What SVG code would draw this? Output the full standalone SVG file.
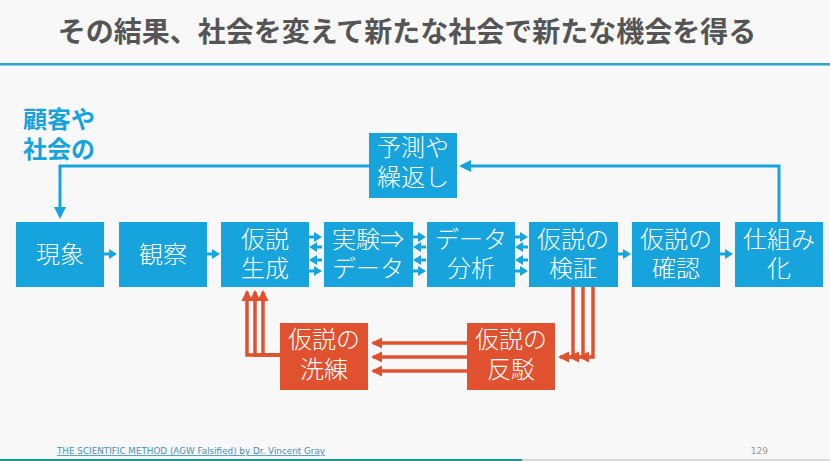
<svg xmlns="http://www.w3.org/2000/svg" width="830" height="461" viewBox="0 0 830 461">
<style>
.bg{fill:#f8f8f8}
.bx{fill:#17a3db}
.rx{fill:#e0522f}
.t{font-family:"Liberation Sans","Noto Sans CJK JP",sans-serif;font-size:24px;fill:#ffffff;text-anchor:middle;font-weight:300}
.title{font-family:"Noto Sans CJK JP",sans-serif;font-size:28px;font-weight:bold;fill:#555555;text-anchor:middle}
.lbl{font-family:"Liberation Sans","Noto Sans CJK JP",sans-serif;font-size:24px;font-weight:bold;fill:#17a3db}
.bl{fill:none;stroke:#17a3db;stroke-width:3}
.rl{fill:none;stroke:#e0522f;stroke-width:3.5}
.sa{fill:#17a3db}
.foot{font-family:"DejaVu Sans",sans-serif;font-size:8.5px;fill:#4a8fb5;text-decoration:underline}
.pg{font-family:"DejaVu Sans",sans-serif;font-size:9px;fill:#999999}
</style>
<defs>
<path id="ar" d="M0,-1.5 H5 V-5 L13,0 L5,5 V1.5 H0 Z"/>
<path id="al" d="M13,-1.5 H8 V-5 L0,0 L8,5 V1.5 H13 Z"/>
<marker id="mb" markerWidth="4" markerHeight="4" refX="3" refY="2" orient="auto" markerUnits="strokeWidth"><path d="M0,0 L4,2 L0,4 Z" fill="#17a3db"/></marker>
<marker id="mr" markerWidth="3.2" markerHeight="3.2" refX="2.6" refY="1.6" orient="auto" markerUnits="strokeWidth"><path d="M0,0 L3.2,1.6 L0,3.2 Z" fill="#e0522f"/></marker>
</defs>
<rect class="bg" x="0" y="0" width="830" height="461"/>
<text class="title" x="407" y="42">その結果、社会を変えて新たな社会で新たな機会を得る</text>
<rect x="0" y="63" width="830" height="2.5" fill="#2aa6d6"/>

<g id="label">
<text class="lbl" x="23" y="128">顧客や</text>
<text class="lbl" x="23" y="158">社会の</text>
</g>

<g id="connectors">
<path class="bl" d="M779,222 V166 H462" marker-end="url(#mb)"/>
<path class="bl" d="M369,166 H60 V216" marker-end="url(#mb)"/>
<use href="#ar" x="104" y="254" class="sa"/>
<use href="#ar" x="207" y="254" class="sa"/>
<use href="#ar" x="309" y="237" class="sa"/>
<use href="#al" x="309" y="247" class="sa"/>
<use href="#al" x="309" y="260" class="sa"/>
<use href="#ar" x="309" y="271" class="sa"/>
<use href="#ar" x="413" y="237" class="sa"/>
<use href="#al" x="413" y="247" class="sa"/>
<use href="#al" x="413" y="260" class="sa"/>
<use href="#ar" x="413" y="271" class="sa"/>
<use href="#ar" x="515" y="237" class="sa"/>
<use href="#al" x="515" y="247" class="sa"/>
<use href="#al" x="515" y="260" class="sa"/>
<use href="#ar" x="515" y="271" class="sa"/>
<use href="#ar" x="618" y="254" class="sa"/>
<use href="#ar" x="720" y="254" class="sa"/>
<path class="rl" d="M467,343 H373" marker-end="url(#mr)"/>
<path class="rl" d="M467,357 H373" marker-end="url(#mr)"/>
<path class="rl" d="M467,371 H373" marker-end="url(#mr)"/>
<path class="rl" d="M593,287 V357 H580" marker-end="url(#mr)"/>
<path class="rl" d="M583,287 V357 H570" marker-end="url(#mr)"/>
<path class="rl" d="M573,287 V357 H560" marker-end="url(#mr)"/>
<path class="rl" d="M280,355 H247 V292" marker-end="url(#mr)"/>
<path class="rl" d="M280,355 H255 V292" marker-end="url(#mr)"/>
<path class="rl" d="M280,355 H263 V292" marker-end="url(#mr)"/>
</g>

<g id="n-yosoku"><rect class="bx" x="369" y="133" width="88" height="65"/><text class="t" x="413" y="156">予測や</text><text class="t" x="413" y="186">繰返し</text></g>
<g id="n-gensho"><rect class="bx" x="16" y="222" width="88" height="65"/><text class="t" x="60" y="263">現象</text></g>
<g id="n-kansatsu"><rect class="bx" x="119" y="222" width="88" height="65"/><text class="t" x="163" y="263">観察</text></g>
<g id="n-seisei"><rect class="bx" x="221" y="222" width="88" height="65"/><text class="t" x="265" y="248">仮説</text><text class="t" x="265" y="277">生成</text></g>
<g id="n-jikken"><rect class="bx" x="324" y="222" width="89" height="65"/><text class="t" x="368" y="248">実験⇒</text><text class="t" x="368" y="277">データ</text></g>
<g id="n-bunseki"><rect class="bx" x="427" y="222" width="88" height="65"/><text class="t" x="471" y="248">データ</text><text class="t" x="471" y="277">分析</text></g>
<g id="n-kensho"><rect class="bx" x="529" y="222" width="89" height="65"/><text class="t" x="573" y="248">仮説の</text><text class="t" x="573" y="277">検証</text></g>
<g id="n-kakunin"><rect class="bx" x="632" y="222" width="88" height="65"/><text class="t" x="676" y="248">仮説の</text><text class="t" x="676" y="277">確認</text></g>
<g id="n-shikumi"><rect class="bx" x="735" y="222" width="88" height="65"/><text class="t" x="779" y="248">仕組み</text><text class="t" x="779" y="277">化</text></g>
<g id="n-senren"><rect class="rx" x="280" y="323" width="88" height="67"/><text class="t" x="324" y="348">仮説の</text><text class="t" x="324" y="378">洗練</text></g>
<g id="n-hanbaku"><rect class="rx" x="467" y="323" width="88" height="67"/><text class="t" x="511" y="348">仮説の</text><text class="t" x="511" y="378">反駁</text></g>

<text class="foot" x="57" y="454" textLength="268" lengthAdjust="spacingAndGlyphs">THE SCIENTIFIC METHOD (AGW Falsified) by Dr. Vincent Gray</text>
<text class="pg" x="768" y="454" text-anchor="end">129</text>
<rect x="0" y="459" width="522" height="2" fill="#1a9a8a"/>
<rect x="522" y="459" width="308" height="2" fill="#d8d8d8"/>
</svg>
